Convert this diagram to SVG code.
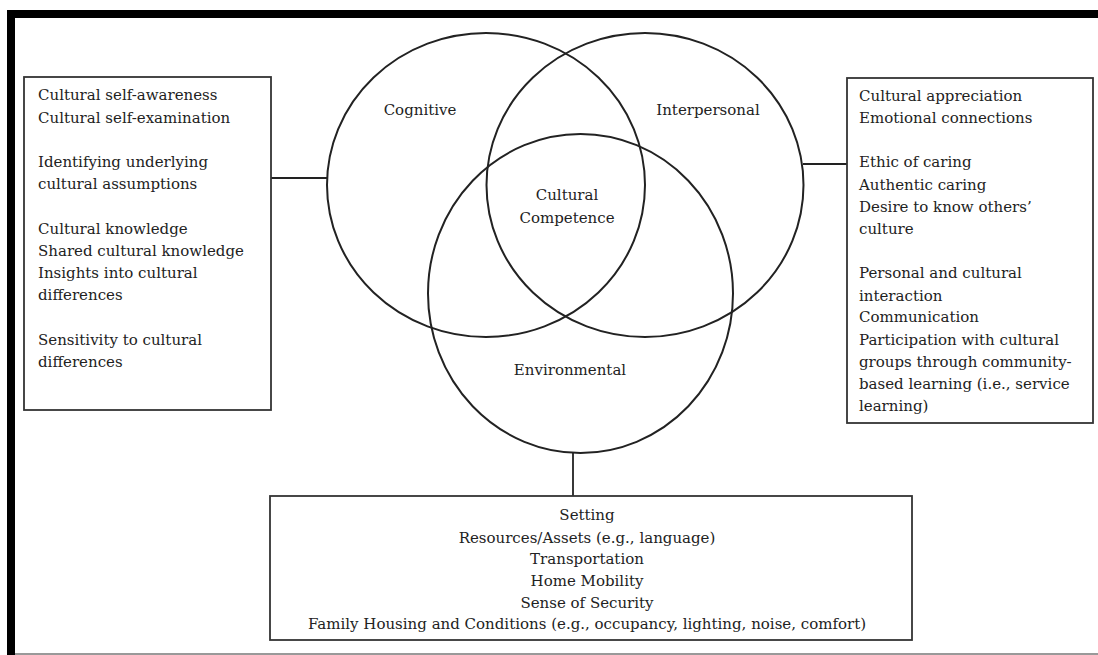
<svg xmlns="http://www.w3.org/2000/svg" width="1098" height="655" viewBox="0 0 1098 655">
<style>
.t{font-family:"DejaVu Serif","Liberation Serif",serif;font-size:15px;fill:#222}
.c{text-anchor:middle}
.ring{fill:none;stroke:#222;stroke-width:2}
.box{fill:#fff;stroke:#333;stroke-width:1.8}
.ln{stroke:#222;stroke-width:1.8;fill:none}
</style>
<rect width="1098" height="655" fill="#fff"/>
<g id="frame">
<rect x="7" y="10" width="1091" height="8" fill="#000"/>
<rect x="7" y="10" width="8" height="645" fill="#000"/>
<line x1="15" y1="654" x2="1098" y2="654" stroke="#777" stroke-width="1.5"/>
</g>
<g id="connectors">
<line class="ln" x1="271" y1="178" x2="327" y2="178"/>
<line class="ln" x1="803" y1="164" x2="847" y2="164"/>
<line class="ln" x1="573" y1="453" x2="573" y2="496"/>
</g>
<g id="cognitive">
<ellipse class="ring" cx="486" cy="185" rx="159" ry="152"/>
<text class="t c" x="420" y="115">Cognitive</text>
</g>
<g id="interpersonal">
<ellipse class="ring" cx="645" cy="185" rx="158.5" ry="152"/>
<text class="t c" x="708" y="115">Interpersonal</text>
</g>
<g id="environmental">
<ellipse class="ring" cx="580.5" cy="293.5" rx="152.5" ry="159.5"/>
<text class="t c" x="570" y="375">Environmental</text>
</g>
<g id="core">
<text class="t c" x="567" y="200">Cultural</text>
<text class="t c" x="567" y="223">Competence</text>
</g>
<g id="left-box">
<rect class="box" x="24" y="77" width="247" height="333"/>
<text class="t" x="38" y="100">Cultural self-awareness</text>
<text class="t" x="38" y="123">Cultural self-examination</text>
<text class="t" x="38" y="167">Identifying underlying</text>
<text class="t" x="38" y="189">cultural assumptions</text>
<text class="t" x="38" y="234">Cultural knowledge</text>
<text class="t" x="38" y="256">Shared cultural knowledge</text>
<text class="t" x="38" y="278">Insights into cultural</text>
<text class="t" x="38" y="300">differences</text>
<text class="t" x="38" y="345">Sensitivity to cultural</text>
<text class="t" x="38" y="367">differences</text>
</g>
<g id="right-box">
<rect class="box" x="847" y="78" width="246" height="345"/>
<text class="t" x="859" y="101">Cultural appreciation</text>
<text class="t" x="859" y="123">Emotional connections</text>
<text class="t" x="859" y="167">Ethic of caring</text>
<text class="t" x="859" y="190">Authentic caring</text>
<text class="t" x="859" y="212">Desire to know others’</text>
<text class="t" x="859" y="234">culture</text>
<text class="t" x="859" y="278">Personal and cultural</text>
<text class="t" x="859" y="301">interaction</text>
<text class="t" x="859" y="322">Communication</text>
<text class="t" x="859" y="345">Participation with cultural</text>
<text class="t" x="859" y="367">groups through community-</text>
<text class="t" x="859" y="389">based learning (i.e., service</text>
<text class="t" x="859" y="411">learning)</text>
</g>
<g id="bottom-box">
<rect class="box" x="270" y="496" width="642" height="144"/>
<text class="t c" x="587" y="520">Setting</text>
<text class="t c" x="587" y="543">Resources/Assets (e.g., language)</text>
<text class="t c" x="587" y="564">Transportation</text>
<text class="t c" x="587" y="586">Home Mobility</text>
<text class="t c" x="587" y="608">Sense of Security</text>
<text class="t c" x="587" y="629">Family Housing and Conditions (e.g., occupancy, lighting, noise, comfort)</text>
</g>
</svg>
